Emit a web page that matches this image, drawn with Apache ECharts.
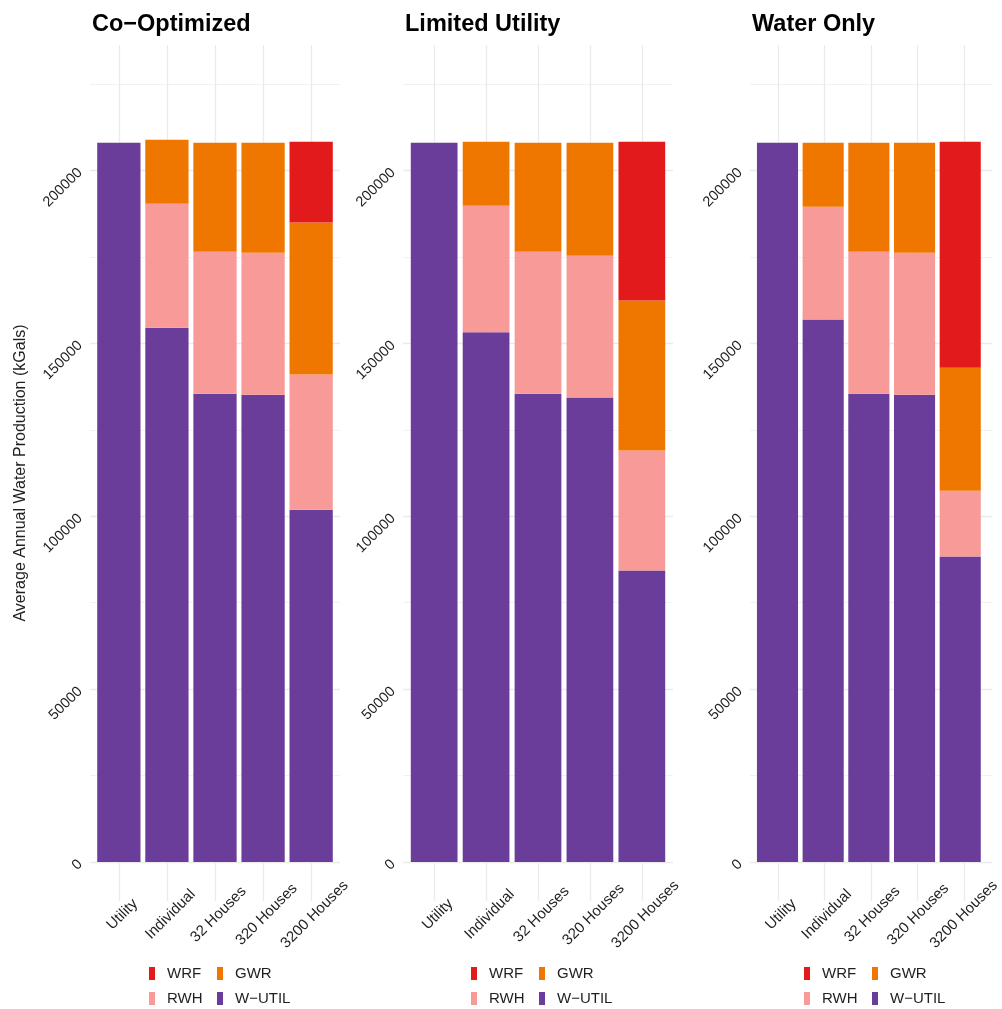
<!DOCTYPE html>
<html>
<head>
<meta charset="utf-8">
<title>Average Annual Water Production</title>
<script src="https://cdn.jsdelivr.net/npm/echarts@6/dist/echarts.min.js"></script>
<style>
  html, body { margin: 0; padding: 0; background: #ffffff; }
  #chart { width: 1002px; height: 1009px; }
</style>
</head>
<body>
<div id="chart"></div>
<script>
// Scenario categories along each x axis
const categories = ['Utility', 'Individual', '32 Houses', '320 Houses', '3200 Houses'];
const panelTitles = ['Co\u2212Optimized', 'Limited Utility', 'Water Only'];

// Water sources, stacked bottom to top
const sourceNames = ['W\u2212UTIL', 'RWH', 'GWR', 'WRF'];
const sourceColors = ['#6A3D9A', '#F89A98', '#EF7700', '#E31A1C'];
// Legend columns (read row by row: WRF, GWR / RWH, W−UTIL)
const legendColumns = [['WRF', 'RWH'], ['GWR', 'W\u2212UTIL']];

// Average annual production (kGals) — Co-Optimized
const coOptWUtil = [208000, 154500, 135450, 135150, 101900];
const coOptRWH   = [0, 35850, 41050, 41050, 39050];
const coOptGWR   = [0, 18500, 31500, 31800, 43950];
const coOptWRF   = [0, 0, 0, 0, 23400];

// Limited Utility
const limitedWUtil = [208000, 153200, 135450, 134300, 84300];
const limitedRWH   = [0, 36600, 41050, 41050, 34700];
const limitedGWR   = [0, 18500, 31500, 32650, 43350];
const limitedWRF   = [0, 0, 0, 0, 45950];

// Water Only
const waterWUtil = [208000, 156850, 135450, 135150, 88350];
const waterRWH   = [0, 32650, 41050, 41050, 19050];
const waterGWR   = [0, 18500, 31500, 31800, 35550];
const waterWRF   = [0, 0, 0, 0, 65300];

const panelValues = [
  [coOptWUtil, coOptRWH, coOptGWR, coOptWRF],
  [limitedWUtil, limitedRWH, limitedGWR, limitedWRF],
  [waterWUtil, waterRWH, waterGWR, waterWRF]
];

// Panel placement
const panels = [
  { left: 90,  width: 250, legendLeft: 149 },
  { left: 403, width: 270, legendLeft: 471 },
  { left: 750, width: 242, legendLeft: 804 }
];
const PANEL_TOP = 45;
const PANEL_HEIGHT = 856;

const FONT = '"Liberation Sans", Arial, Helvetica, sans-serif';
const TEXT_COLOR = '#1f1f1f';
const GRID_MAJOR = { color: '#EBEBEB', width: 1.3 };
const GRID_MINOR = { color: '#EFEFEF', width: 0.9 };

// y range padded 5% beyond the 0–225000 span on both ends
const Y_MIN = -11250;
const Y_MAX = 236250;
const MINOR_SHIFT = 25000; // shifted axis whose ticks fall halfway between major ticks

// Each panel has a background grid (grid lines, y labels) spanning the padded
// discrete range 0.4–5.6, and an inner grid covering the five category bands.
const grid = [], xAxis = [], yAxis = [], series = [], title = [], legend = [];

panels.forEach((p, i) => {
  const unit = p.width / 5.2;
  const bgGrid = grid.length;
  grid.push({ left: p.left, width: p.width, top: PANEL_TOP, height: PANEL_HEIGHT });
  const barGrid = grid.length;
  grid.push({ left: p.left + 0.1 * unit, width: 5 * unit, top: PANEL_TOP, height: PANEL_HEIGHT });

  title.push({
    text: panelTitles[i],
    left: p.left - 3,
    top: 8,
    textStyle: { fontFamily: FONT, fontSize: 23.5, fontWeight: 'bold', color: '#000000' }
  });

  // background x axis: vertical grid lines at the category centres
  xAxis.push({
    gridIndex: bgGrid,
    type: 'value',
    min: 0.4,
    max: 5.6,
    splitNumber: 5,
    axisLine: { show: false },
    axisTick: { show: false },
    axisLabel: { show: false },
    splitLine: { show: true, showMinLine: false, showMaxLine: false, lineStyle: GRID_MAJOR }
  });
  const barX = xAxis.length;
  xAxis.push({
    gridIndex: barGrid,
    type: 'category',
    data: categories,
    boundaryGap: true,
    axisLine: { show: false },
    axisTick: { show: false },
    splitLine: { show: false },
    axisLabel: {
      interval: 0,
      rotate: 45,
      align: 'center',
      verticalAlign: 'middle',
      margin: 17,
      padding: [0, 0, 0, 10],
      fontFamily: FONT,
      fontSize: 15,
      color: TEXT_COLOR
    }
  });

  yAxis.push({
    gridIndex: bgGrid,
    type: 'value',
    min: Y_MIN,
    max: Y_MAX,
    splitNumber: 5,
    axisLine: { show: false },
    axisTick: { show: false },
    splitLine: { show: true, showMinLine: false, showMaxLine: false, lineStyle: GRID_MAJOR },
    axisLabel: {
      showMinLabel: false,
      showMaxLabel: false,
      rotate: 45,
      margin: 10,
      fontFamily: FONT,
      fontSize: 14.5,
      color: TEXT_COLOR,
      formatter: v => (v >= 0 && v % 50000 === 0) ? String(v) : ''
    },
    name: i === 0 ? 'Average Annual Water Production (kGals)' : '',
    nameLocation: 'middle',
    nameRotate: 90,
    nameGap: 61,
    nameTextStyle: { fontFamily: FONT, fontSize: 16, color: TEXT_COLOR }
  });
  // minor grid lines (25000, 75000, ... 225000)
  yAxis.push({
    gridIndex: bgGrid,
    type: 'value',
    min: Y_MIN + MINOR_SHIFT,
    max: Y_MAX + MINOR_SHIFT,
    splitNumber: 5,
    position: 'left',
    axisLine: { show: false },
    axisTick: { show: false },
    axisLabel: { show: false },
    splitLine: { show: true, showMinLine: false, showMaxLine: false, lineStyle: GRID_MINOR }
  });
  const barY = yAxis.length;
  yAxis.push({
    gridIndex: barGrid,
    type: 'value',
    min: Y_MIN,
    max: Y_MAX,
    show: false,
    splitLine: { show: false }
  });

  sourceNames.forEach((name, s) => {
    series.push({
      type: 'bar',
      name: name,
      stack: 'panel' + i,
      xAxisIndex: barX,
      yAxisIndex: barY,
      barWidth: '90%',
      itemStyle: { color: sourceColors[s] },
      emphasis: { disabled: true },
      data: panelValues[i][s]
    });
  });

  legendColumns.forEach((col, c) => {
    legend.push({
      data: col,
      orient: 'vertical',
      left: p.legendLeft + c * 68,
      top: 966,
      padding: 0,
      itemWidth: 6,
      itemHeight: 13,
      itemGap: 10,
      icon: 'rect',
      selectedMode: false,
      textStyle: {
        fontFamily: FONT,
        fontSize: 15,
        color: TEXT_COLOR,
        lineHeight: 13,
        padding: [0, 0, 0, 7]
      }
    });
  });
});

const chart = echarts.init(document.getElementById('chart'), null, { renderer: 'canvas' });
chart.setOption({
  backgroundColor: '#ffffff',
  animation: false,
  color: sourceColors,
  title: title,
  legend: legend,
  grid: grid,
  xAxis: xAxis,
  yAxis: yAxis,
  series: series
});
</script>
</body>
</html>
